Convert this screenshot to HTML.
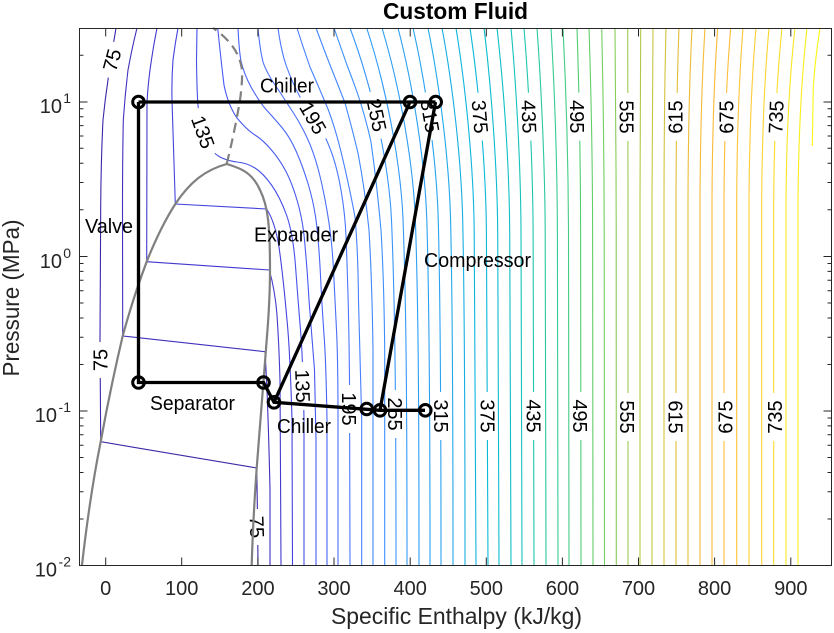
<!DOCTYPE html>
<html><head><meta charset="utf-8"><title>Custom Fluid</title>
<style>
html,body{margin:0;padding:0;background:#fff}
svg{display:block}
text{font-family:"Liberation Sans",Arial,sans-serif}
.t{font-size:20px;fill:#262626}
.s{font-size:14px;fill:#262626}
.c{font-size:20px;fill:#000;text-anchor:middle}
.a{font-size:20px;fill:#000}
#iso path{fill:none;stroke-width:1.1}
</style></head><body>
<svg width="834" height="633" viewBox="0 0 834 633" xmlns="http://www.w3.org/2000/svg">
<rect width="834" height="633" fill="#fff"/>
<g id="iso">
<path stroke="#3e26a8" d="M116 28Q112 52 108 80Q105 100 103 120Q101 160 100.7 207L100 340L100.7 441.7L256.7 468Q257.5 510 258 565"/>
<path stroke="#4030bc" d="M137 28Q132 48 128 70Q125 95 123.3 120Q122.5 160 122.5 207L122.7 336L265 351.7Q268 400 270 490L270 565"/>
<path stroke="#433acd" d="M157 28Q153 48 150 70Q148 85 147 102L146.7 261.7L269.3 270Q275 290 277 315Q279 345 280 380L281 565"/>
<path stroke="#4543dd" d="M178 28Q175 44 173 60Q171.5 80 172 100L175.3 204L266.7 209Q275 222 279 247Q283 275 287 320Q290 350 292 420L292.5 565"/>
<path stroke="#4650e8" d="M197 28L196.5 60Q197 100 198.5 110Q200 120 202.5 130Q205 140 209 146.5Q213 153 220 157Q226.7 160.7 237 162Q247 163 255 168Q263 173 271.5 185Q280 197 286.5 215Q293 233 295.5 266Q298 300 300.5 330Q303 360 304 420L304 565"/>
<path stroke="#4759f0" d="M217.7 28Q221 60 224 85Q228 105 237 118Q247 130 255 135Q263 140 271.5 150Q280 160 286 171.5Q292 183 297 200Q302 217 304 235Q307 265 309 300Q312 340 314.5 370L316 440L316 565"/>
<path stroke="#4864f6" d="M238 28Q239 50 241 61Q244 74 251 87Q260 103 266.5 110Q273 117 281.5 127Q290 137 296.5 152Q303 167 308 183.5Q313 200 315.5 216.5Q318 233 320 266Q321.5 300 324 335Q326 360 327 420L327 565"/>
<path stroke="#4a6efa" d="M258 28Q260 50 263 62Q267 74 278.5 90Q287 103 293.5 113Q300 123 306.5 136.5Q313 150 318 168.5Q323 187 327.5 213.5Q332 240 333.5 270Q335 300 336.5 330Q338 360 338 420L338 565"/>
<path stroke="#4a78fd" d="M278 28Q281 50 286 65Q292 82 300 97Q313 117 319 126Q325 135 331 151Q337 167 341 190Q345 213 346 236Q347 260 348 295Q349 330 349.5 380L350 565"/>
<path stroke="#4680fd" d="M297 28Q304 50 310 67Q320 90 328 109Q336 130 343 160Q350 190 355 217Q358 250 358.5 300Q360 360 361.7 420L361.7 565"/>
<path stroke="#4288fd" d="M316 28Q323 47 330 65Q338 85 345 103Q352 128 358 153Q365 190 369 230Q372 280 373 350L373 565"/>
<path stroke="#3d8ffc" d="M334 28Q340 45 347 65Q352 78 357 92Q365 115 371 142Q377 185 381 230Q384 280 384.7 350L384.7 565"/>
<path stroke="#3795fa" d="M350 28C369.6 80 390 160 391.9 230C394.6 300 396 380 396 565"/>
<path stroke="#329af7" d="M366.7 28C383.8 80 401.8 160 403.4 230C405.8 300 407 380 407 565"/>
<path stroke="#2e9ef4" d="M382 28C397.7 80 414.2 160 415.7 230C417.9 300 419 380 419 565"/>
<path stroke="#2ba1f2" d="M398 28C411.6 80 425.8 160 427.1 230C429 300 430 380 430 565"/>
<path stroke="#2aa3f0" d="M413 28C424.9 80 437.4 160 438.5 230C440.2 300 441 380 441 565"/>
<path stroke="#22a8ea" d="M428 28C438.6 80 449.8 160 450.8 230C452.3 300 453 380 453 565"/>
<path stroke="#18aee3" d="M442 28C451.8 80 462 160 462.9 230C464.3 300 465 380 465 565"/>
<path stroke="#10b5de" d="M456 28C464.5 80 473.4 160 474.2 230C475.4 300 476 380 476 565"/>
<path stroke="#0ab9d8" d="M470 28C477.7 80 485.7 160 486.4 230C487.5 300 488 380 488 565"/>
<path stroke="#0abcd0" d="M484 28C490.4 80 497 160 497.7 230C498.6 300 499 380 499 565"/>
<path stroke="#10bfc6" d="M497 28C503 80 509.2 160 509.7 230C510.6 300 511 380 511 565"/>
<path stroke="#15c2bb" d="M511 28C515.7 80 520.6 160 521 230C521.7 300 522 380 522 565"/>
<path stroke="#1fc5ae" d="M524 28C528.3 80 532.7 160 533.1 230C533.7 300 534 380 534 565"/>
<path stroke="#2cc8a0" d="M537 28C540.8 80 544.8 160 545.2 230C545.7 300 546 380 546 565"/>
<path stroke="#38ca92" d="M551 28C554 80 557.1 160 557.4 230C557.8 300 558 380 558 565"/>
<path stroke="#44cc84" d="M563 28C565.6 80 568.2 160 568.5 230C568.8 300 569 380 569 565"/>
<path stroke="#50cd75" d="M577 28C578.7 80 580.5 160 580.6 230C580.9 300 581 380 581 565"/>
<path stroke="#62ce6a" d="M589 28C590.7 80 592.5 160 592.6 230C592.9 300 593 380 593 565"/>
<path stroke="#75ce60" d="M601.7 28C602.9 80 604.1 160 604.2 230C604.4 300 604.5 380 604.5 565"/>
<path stroke="#88cd58" d="M615 28C615.6 80 616.1 160 616.2 230L616.3 565"/>
<path stroke="#9ccb50" d="M627.7 28L628 200L628 565"/>
<path stroke="#b0c948" d="M640.7 28L640 200L640 565"/>
<path stroke="#c4c642" d="M653 28C652.4 80 652.1 140 652 200L652 565"/>
<path stroke="#d4c23e" d="M666 28C664.7 80 664.1 140 664 200L664 565"/>
<path stroke="#e0bf3a" d="M679 28C677 80 676.2 140 676 200L676 565"/>
<path stroke="#ecbc38" d="M692 28C689.4 80 688.2 140 688 200L688 565"/>
<path stroke="#f6ba38" d="M705 28C701.8 80 700.3 140 700 200L700 565"/>
<path stroke="#fbb936" d="M717.7 28C714 80 712.3 140 712 200L712 565"/>
<path stroke="#fdbd3a" d="M730.7 28C726.3 80 724.3 140 724 200L724 565"/>
<path stroke="#fec438" d="M743 28C738.9 80 737 140 736.7 200L736.7 565"/>
<path stroke="#fdcc34" d="M756 28C751.5 80 749.4 140 749 200L749 565"/>
<path stroke="#fbd52e" d="M769 28C764.3 80 762.1 140 761.7 200L761.7 565"/>
<path stroke="#f9dd28" d="M782 28C776.6 80 774.1 140 773.7 200L773.7 565"/>
<path stroke="#f8e622" d="M795 28C789.2 80 786.5 140 786 200L786 565"/>
<path stroke="#f9ee1c" d="M807 28C801.2 80 798.5 140 798 200L798 565"/>
<path stroke="#fbf614" d="M820 28Q815 60 813.3 87L812.3 146"/>
</g>
<g>
<g transform="translate(112,60) rotate(-75)"><rect x="-18" y="-5" width="36" height="10" fill="#fff"/><text class="c" y="7">75</text></g>
<g transform="translate(203,132) rotate(70)"><rect x="-24" y="-6" width="48" height="12" fill="#fff"/><text class="c" y="7">135</text></g>
<g transform="translate(313,118) rotate(60)"><rect x="-24" y="-6" width="48" height="12" fill="#fff"/><text class="c" y="7">195</text></g>
<g transform="translate(376.7,115) rotate(78)"><rect x="-24" y="-5" width="48" height="10" fill="#fff"/><text class="c" y="7">255</text></g>
<g transform="translate(430,116) rotate(80)"><rect x="-24" y="-5" width="48" height="10" fill="#fff"/><text class="c" y="7">315</text></g>
<g transform="translate(480,116.7) rotate(85)"><rect x="-24" y="-5" width="48" height="10" fill="#fff"/><text class="c" y="7">375</text></g>
<g transform="translate(529,116.7) rotate(88)"><rect x="-24" y="-5" width="48" height="10" fill="#fff"/><text class="c" y="7">435</text></g>
<g transform="translate(577,116.7) rotate(90)"><rect x="-24" y="-5" width="48" height="10" fill="#fff"/><text class="c" y="7">495</text></g>
<g transform="translate(626.7,117) rotate(90)"><rect x="-24" y="-5" width="48" height="10" fill="#fff"/><text class="c" y="7">555</text></g>
<g transform="translate(675.7,117) rotate(-90)"><rect x="-24" y="-5" width="48" height="10" fill="#fff"/><text class="c" y="7">615</text></g>
<g transform="translate(726.7,117) rotate(-90)"><rect x="-24" y="-5" width="48" height="10" fill="#fff"/><text class="c" y="7">675</text></g>
<g transform="translate(776,117) rotate(-88)"><rect x="-24" y="-5" width="48" height="10" fill="#fff"/><text class="c" y="7">735</text></g>
<g transform="translate(100.5,360) rotate(-90)"><rect x="-18" y="-5" width="36" height="10" fill="#fff"/><text class="c" y="7">75</text></g>
<g transform="translate(257,527) rotate(88)"><rect x="-18" y="-5" width="36" height="10" fill="#fff"/><text class="c" y="7">75</text></g>
<g transform="translate(302.7,386) rotate(88)"><rect x="-24" y="-5" width="48" height="10" fill="#fff"/><text class="c" y="7">135</text></g>
<g transform="translate(349,409) rotate(90)"><rect x="-24" y="-5" width="48" height="10" fill="#fff"/><text class="c" y="7">195</text></g>
<g transform="translate(395,414) rotate(90)"><rect x="-24" y="-5" width="48" height="10" fill="#fff"/><text class="c" y="7">255</text></g>
<g transform="translate(441,416) rotate(90)"><rect x="-24" y="-5" width="48" height="10" fill="#fff"/><text class="c" y="7">315</text></g>
<g transform="translate(487.5,416) rotate(90)"><rect x="-24" y="-5" width="48" height="10" fill="#fff"/><text class="c" y="7">375</text></g>
<g transform="translate(533.5,416) rotate(90)"><rect x="-24" y="-5" width="48" height="10" fill="#fff"/><text class="c" y="7">435</text></g>
<g transform="translate(580,416) rotate(90)"><rect x="-24" y="-5" width="48" height="10" fill="#fff"/><text class="c" y="7">495</text></g>
<g transform="translate(627,417) rotate(90)"><rect x="-24" y="-5" width="48" height="10" fill="#fff"/><text class="c" y="7">555</text></g>
<g transform="translate(675.7,417) rotate(90)"><rect x="-24" y="-5" width="48" height="10" fill="#fff"/><text class="c" y="7">615</text></g>
<g transform="translate(725.7,417) rotate(-90)"><rect x="-24" y="-5" width="48" height="10" fill="#fff"/><text class="c" y="7">675</text></g>
<g transform="translate(775,417) rotate(-90)"><rect x="-24" y="-5" width="48" height="10" fill="#fff"/><text class="c" y="7">735</text></g>
</g>
<path d="M82 565Q90 495 100.7 441.7Q110 390 122.7 336Q133 298 146.7 261.7Q160 228 175.3 204C190 182 205 170 226.7 164C240 168 252 172 260 190C268 206 270 225 270 270Q270 300 266.7 340Q262 400 256.7 468Q253 520 251.7 565" fill="none" stroke="#808080" stroke-width="2.2"/>
<path d="M226.7 164Q235 130 240 100Q243 78 241.7 68Q238 45 213 28" fill="none" stroke="#808080" stroke-width="2.2" stroke-dasharray="10 6"/>
<g fill="none" stroke="#000" stroke-width="3.3">
<path d="M138.5 102L435.5 102M138.5 102L138.5 382.5L263.5 382.5L274 402.3L380 410.3L425 410.3M274 402.3L410 102M380 410.3L435.5 102"/>
<g stroke-width="3">
<circle cx="138.5" cy="102" r="5.8"/><circle cx="138.5" cy="382.5" r="5.8"/><circle cx="263.5" cy="382.5" r="5.8"/><circle cx="274" cy="402.3" r="5.8"/><circle cx="366.7" cy="409" r="5.8"/><circle cx="380" cy="410.3" r="5.8"/><circle cx="425.3" cy="410.3" r="5.8"/><circle cx="410" cy="102" r="5.8"/><circle cx="435.7" cy="102" r="5.8"/>
</g></g>
<text class="a" x="260" y="92.5" textLength="54" lengthAdjust="spacingAndGlyphs">Chiller</text>
<text class="a" x="85" y="233" textLength="48" lengthAdjust="spacingAndGlyphs">Valve</text>
<text class="a" x="254" y="241.5" textLength="84" lengthAdjust="spacingAndGlyphs">Expander</text>
<text class="a" x="424" y="267" textLength="107" lengthAdjust="spacingAndGlyphs">Compressor</text>
<text class="a" x="150" y="410" textLength="85" lengthAdjust="spacingAndGlyphs">Separator</text>
<text class="a" x="277" y="433" textLength="54" lengthAdjust="spacingAndGlyphs">Chiller</text>
<g fill="none" stroke="#262626" stroke-width="1">
<rect x="79.5" y="28.5" width="752" height="537"/>
<path d="M105.7 565.5v-8M181.7 565.5v-8M257.9 565.5v-8M334 565.5v-8M410.2 565.5v-8M486.3 565.5v-8M562.4 565.5v-8M638.5 565.5v-8M714.6 565.5v-8M790.8 565.5v-8M105.7 28.5v8M181.7 28.5v8M257.9 28.5v8M334 28.5v8M410.2 28.5v8M486.3 28.5v8M562.4 28.5v8M638.5 28.5v8M714.6 28.5v8M790.8 28.5v8"/>
<path d="M79.5 411h8M79.5 256.5h8M79.5 102h8M831.5 411h-8M831.5 256.5h-8M831.5 102h-8"/>
<path d="M79.5 519h4M79.5 491.7h4M79.5 472.5h4M79.5 457.5h4M79.5 445.2h4M79.5 434.8h4M79.5 425.9h4M79.5 418h4M79.5 364.5h4M79.5 337.2h4M79.5 318h4M79.5 303h4M79.5 290.7h4M79.5 280.3h4M79.5 271.4h4M79.5 263.5h4M79.5 209.8h4M79.5 182.5h4M79.5 163.3h4M79.5 148.3h4M79.5 136h4M79.5 125.6h4M79.5 116.7h4M79.5 108.8h4M79.5 55.2h4"/>
<path d="M831.5 519h-4M831.5 491.7h-4M831.5 472.5h-4M831.5 457.5h-4M831.5 445.2h-4M831.5 434.8h-4M831.5 425.9h-4M831.5 418h-4M831.5 364.5h-4M831.5 337.2h-4M831.5 318h-4M831.5 303h-4M831.5 290.7h-4M831.5 280.3h-4M831.5 271.4h-4M831.5 263.5h-4M831.5 209.8h-4M831.5 182.5h-4M831.5 163.3h-4M831.5 148.3h-4M831.5 136h-4M831.5 125.6h-4M831.5 116.7h-4M831.5 108.8h-4M831.5 55.2h-4"/>
</g>
<g text-anchor="middle">
<text class="t" x="105.7" y="595">0</text><text class="t" x="181.7" y="595">100</text><text class="t" x="257.9" y="595">200</text><text class="t" x="334" y="595">300</text><text class="t" x="410.2" y="595">400</text><text class="t" x="486.3" y="595">500</text><text class="t" x="562.4" y="595">600</text><text class="t" x="638.5" y="595">700</text><text class="t" x="714.6" y="595">800</text><text class="t" x="790.8" y="595">900</text>
</g>
<g text-anchor="end">
<text class="t" x="62" y="113">10</text><text class="s" x="71" y="103">1</text>
<text class="t" x="62" y="268">10</text><text class="s" x="71" y="258">0</text>
<text class="t" x="57" y="422">10</text><text class="s" x="71" y="412">-1</text>
<text class="t" x="57" y="576.5">10</text><text class="s" x="71" y="566.5">-2</text>
</g>
<text x="456.5" y="624" text-anchor="middle" font-size="23" fill="#262626" textLength="251" lengthAdjust="spacingAndGlyphs">Specific Enthalpy (kJ/kg)</text>
<text transform="translate(19,298) rotate(-90)" text-anchor="middle" font-size="23" fill="#262626" textLength="157" lengthAdjust="spacingAndGlyphs">Pressure (MPa)</text>
<text x="455.5" y="19" text-anchor="middle" font-size="23" font-weight="bold" fill="#000" textLength="145" lengthAdjust="spacingAndGlyphs">Custom Fluid</text>
</svg>
</body></html>
